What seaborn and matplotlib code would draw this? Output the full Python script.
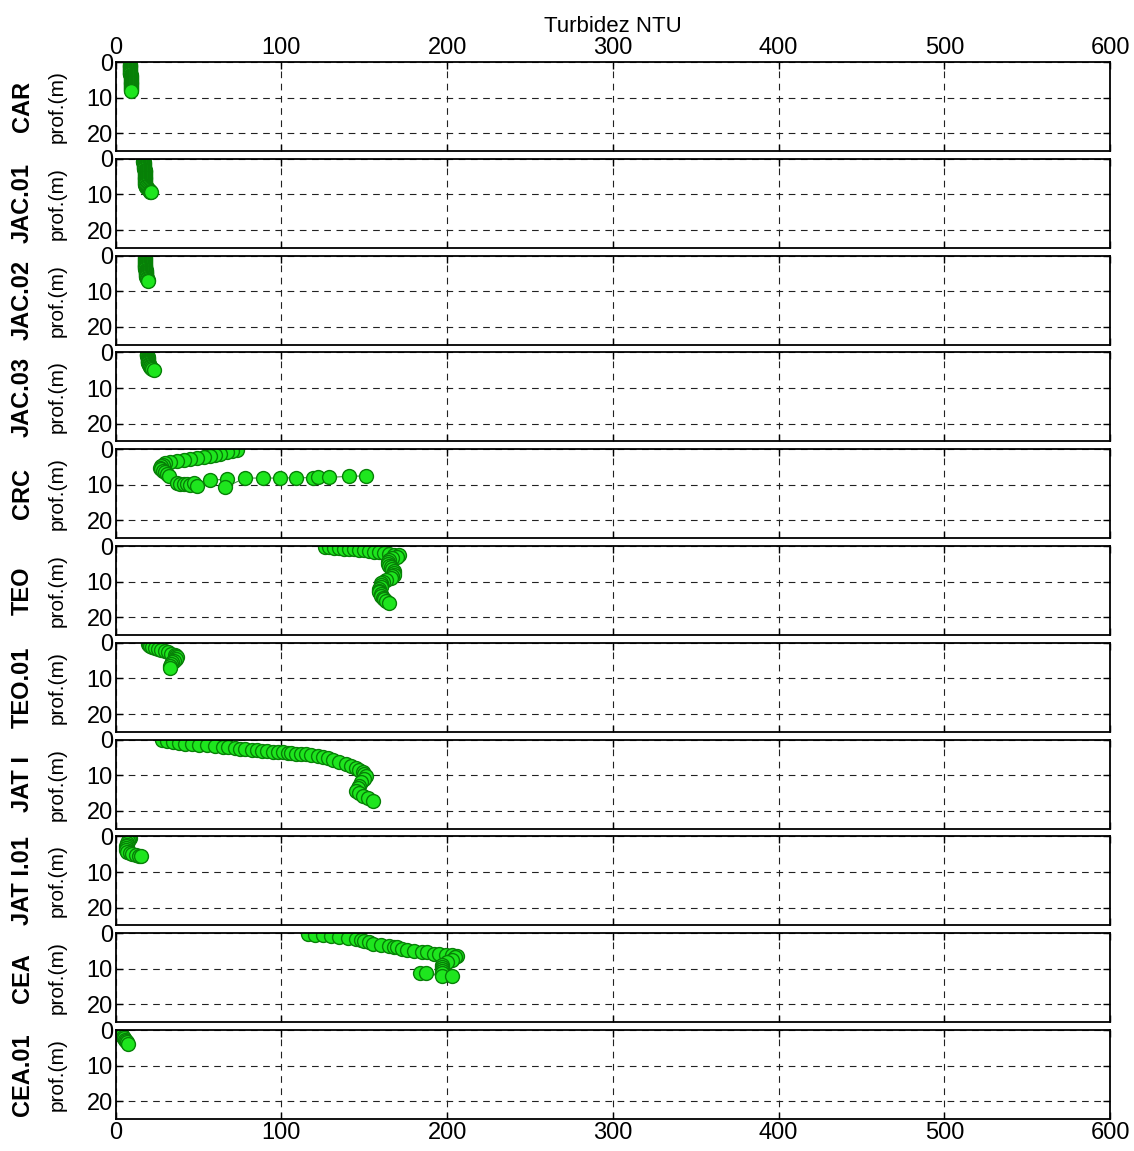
import matplotlib
matplotlib.use("Agg")
import matplotlib.pyplot as plt
import numpy as np
import pandas as pd
import seaborn as sns

stations = ["CAR", "JAC.01", "JAC.02", "JAC.03", "CRC", "TEO", "TEO.01",
            "JAT I", "JAT I.01", "CEA", "CEA.01"]

car_depth = [0.5, 0.75, 1.0, 1.25, 1.5, 1.75, 2.0, 2.25, 2.5, 2.75, 3.0, 3.25, 3.5, 3.75,
             4.0, 4.25, 4.5, 4.75, 5.0, 5.25, 5.5, 5.75, 6.0, 6.25, 6.5, 6.75, 7.0,
             7.25, 7.5, 7.75, 8.0]
car_turb = [8.5, 8.5, 8.6, 8.6, 8.7, 8.7, 8.8, 8.8, 8.8, 8.9, 8.9, 8.9, 8.9, 9.0,
            9.0, 9.0, 9.0, 9.0, 9.0, 9.1, 9.1, 9.1, 9.1, 9.1, 9.1, 9.2, 9.2,
            9.2, 9.2, 9.3, 9.3]

jac01_depth = [0.5, 0.8, 1.0, 1.3, 1.5, 1.8, 2.0, 2.3, 2.5, 2.8, 3.0, 3.3, 3.5, 3.8,
               4.0, 4.3, 4.5, 4.8, 5.0, 5.3, 5.5, 5.8, 6.0, 6.3, 6.5, 6.8, 7.0, 7.3,
               7.5, 7.8, 8.0, 8.3, 8.5, 8.8, 9.0, 9.2, 9.4]
jac01_turb = [16.5, 16.6, 16.8, 16.9, 17.0, 17.1, 17.2, 17.2, 17.3, 17.3, 17.4, 17.4,
              17.5, 17.5, 17.5, 17.5, 17.6, 17.6, 17.6, 17.6, 17.7, 17.7, 17.7, 17.7,
              17.8, 17.8, 17.8, 17.9, 18.0, 18.2, 18.5, 19.0, 19.5, 20.0, 20.5, 21.0, 21.5]

jac02_depth = [0.5, 0.8, 1.0, 1.3, 1.5, 1.8, 2.0, 2.3, 2.5, 2.8, 3.0, 3.3, 3.5, 3.8,
               4.0, 4.3, 4.5, 4.8, 5.0, 5.3, 5.5, 5.8, 6.0, 6.3, 6.5, 6.8, 7.0]
jac02_turb = [17.5, 17.5, 17.6, 17.6, 17.7, 17.7, 17.8, 17.8, 17.8, 17.8, 17.9, 17.9,
              17.9, 17.9, 18.0, 18.0, 18.0, 18.0, 18.1, 18.1, 18.2, 18.3, 18.5, 18.7,
              19.0, 19.3, 19.5]

jac03_depth = [0.3, 0.6, 0.8, 1.1, 1.3, 1.6, 1.8, 2.1, 2.3, 2.6, 2.8, 3.1, 3.3, 3.6,
               3.8, 4.1, 4.3, 4.6, 4.8]
jac03_turb = [19.0, 19.1, 19.2, 19.2, 19.3, 19.4, 19.5, 19.5, 19.5, 19.6, 19.7, 19.8,
              20.0, 20.2, 20.5, 21.0, 21.5, 22.2, 23.0]

crc_depth = [0.3, 0.6, 0.9, 1.2, 1.5, 1.8, 2.1, 2.4, 2.7, 3.0, 3.3, 3.6, 4.0, 4.4,
             4.8, 5.2, 5.6, 6.0, 6.5, 7.0, 7.5, 9.6, 9.8, 9.7, 9.9, 10.1, 9.6, 10.3,
             8.7, 8.4, 10.7, 8.1, 8.1, 8.1, 8.0, 8.0, 7.7, 7.9, 7.6, 7.5]
crc_turb = [73, 70, 67, 63, 60, 57, 53, 49, 45, 41, 37, 33, 30, 28.5,
            27.5, 27, 27.5, 28.5, 30, 31, 32, 37, 39, 41, 43, 45, 47, 49,
            57, 67, 66, 78, 89, 99, 109, 119, 122, 129, 141, 151]

teo_depth = [0.3, 0.4, 0.5, 0.6, 0.7, 0.8, 0.9, 1.0, 1.2, 1.4, 1.6, 1.8, 2.0, 2.2,
             2.4, 2.6, 3.0, 3.5, 4.0, 4.5, 5.0, 5.5, 6.0, 6.5, 7.0, 7.5, 8.0, 8.5,
             9.0, 9.5, 10.0, 10.5, 11.0, 11.5, 12.0, 12.5, 13.0, 13.5, 14.0, 14.5,
             15.0, 15.5, 16.0]
teo_turb = [126, 129, 132, 135, 138, 141, 144, 147, 150, 153, 156, 159, 162, 165,
            168, 171, 170, 167, 165, 164, 164, 165, 166, 167, 168, 168, 168, 167,
            166, 163, 161, 160, 160, 160, 159, 159, 159, 160, 160, 161,
            162, 163, 165]

teo01_depth = [0.3, 0.6, 0.9, 1.2, 1.5, 1.8, 2.1, 2.4, 2.7, 3.0, 3.3, 3.7, 4.1, 4.5, 5.0, 5.5, 6.0, 6.5, 7.0]
teo01_turb = [19.5, 20, 20.5, 22, 23.5, 25.5, 27.5, 29.5, 31.5, 33.5, 35.5, 36.5, 37, 36.5, 35, 34, 33.5, 33, 32.5]

jat_depth = [0.2, 0.5, 0.8, 1.0, 1.1, 1.3, 1.5, 1.6, 1.8, 2.0, 2.1, 2.3, 2.5, 2.7,
             2.9, 3.0, 3.2, 3.3, 3.4, 3.5, 3.6, 3.7, 3.8, 3.9, 4.0, 4.1, 4.3, 4.6,
             4.8, 5.2, 5.7, 6.2, 6.8, 7.4, 8.0, 8.4, 9.0, 9.6, 10.2, 11.0, 12.0,
             13.0, 13.7, 14.3, 15.0, 15.7, 16.5, 17.3]
jat_turb = [28, 31, 34.5, 38, 42, 46, 50, 55, 60, 64.5, 68, 72, 75, 78,
            82, 85, 88, 91, 95, 98, 101, 104, 106, 109, 112, 115, 118, 122,
            125, 128, 131, 135, 139, 142, 145, 147, 149, 150, 151, 150, 148,
            147, 146, 145, 147, 149, 152, 155]

jati01_depth = [0.3, 0.8, 1.3, 1.8, 2.3, 2.8, 3.3, 3.8, 4.3, 4.7, 5.0, 5.2, 5.4, 5.6]
jati01_turb = [8.5, 8.0, 7.5, 7.0, 6.8, 6.5, 6.5, 6.5, 7.0, 8.5, 10, 12, 14, 15.5]

cea_depth = [0.3, 0.4, 0.6, 0.8, 1.1, 1.3, 1.6, 2.0, 2.2, 2.6, 3.0, 3.2, 3.5, 3.8,
             4.0, 4.3, 4.7, 4.9, 5.2, 5.4, 5.7, 5.8, 6.0, 6.1, 6.3, 6.8, 7.4, 8.0,
             8.8, 9.4, 10.0, 10.7, 11.3, 12.0, 11.2, 11.2, 12.0]
cea_turb = [116, 120, 125, 130, 135, 140, 145, 148, 150, 153, 155, 160, 165, 168,
            170, 173, 176, 180, 185, 188, 192, 195, 199, 203, 206, 205, 203, 200,
            197, 197, 197, 197, 197, 197, 183.5, 187.5, 203]

cea01_depth = [0.3, 0.7, 1.1, 1.5, 1.9, 2.3, 2.7, 3.1, 3.5, 3.8]
cea01_turb = [2.0, 2.5, 3.0, 3.8, 4.5, 5.2, 5.8, 6.3, 6.8, 7.2]

profiles = [
    (car_turb, car_depth), (jac01_turb, jac01_depth), (jac02_turb, jac02_depth),
    (jac03_turb, jac03_depth), (crc_turb, crc_depth), (teo_turb, teo_depth),
    (teo01_turb, teo01_depth), (jat_turb, jat_depth), (jati01_turb, jati01_depth),
    (cea_turb, cea_depth), (cea01_turb, cea01_depth),
]

x_ticks = [0, 100, 200, 300, 400, 500, 600]
y_ticks = [0, 10, 20]

sns.set_theme(style="white")
plt.rcParams["font.family"] = ["Liberation Sans", "DejaVu Sans"]
plt.rcParams["text.color"] = "black"

fig = plt.figure(figsize=(11.34, 11.51), dpi=100)
gs = fig.add_gridspec(len(stations), 1, left=0.102, right=0.979,
                      top=0.9461, bottom=0.0278, hspace=0.088)

for i, (name, (turb, depth)) in enumerate(zip(stations, profiles)):
    ax = fig.add_subplot(gs[i])
    df = pd.DataFrame({"turb": turb, "depth": depth})
    sns.lineplot(data=df, x="turb", y="depth", ax=ax, sort=False, estimator=None,
                 color="#4a8f4a", linewidth=0.8, marker="o", markersize=10,
                 markerfacecolor="#1ee61e", markeredgecolor="#078007",
                 markeredgewidth=1.0)
    ax.set_xlim(0, 600)
    ax.set_ylim(25, 0)
    ax.set_xticks(x_ticks)
    ax.set_yticks(y_ticks)
    ax.grid(True, color="#222222", linestyle=(0, (6, 5)), linewidth=0.8)
    for sp in ax.spines.values():
        sp.set_color("black")
        sp.set_linewidth(1.3)
    ax.tick_params(direction="in", length=5, width=1, top=True, right=True,
                   bottom=True, left=True, labelsize=17, colors="black",
                   labelbottom=(i == len(stations) - 1),
                   labeltop=(i == 0), pad=2)
    ax.set_xlabel("")
    ax.set_ylabel("")
    ax.text(-0.059, 0.5, "prof.(m)", transform=ax.transAxes, rotation=90,
            ha="center", va="center", fontsize=15, color="black")
    ax.text(-0.094, 0.5, name, transform=ax.transAxes, rotation=90,
            ha="center", va="center", fontsize=17, fontweight="bold", color="black")
    if i == 0:
        ax.xaxis.set_label_position("top")
        ax.set_xlabel("Turbidez NTU", fontsize=16, labelpad=4, color="black")

fig.savefig("out.png", dpi=100)
